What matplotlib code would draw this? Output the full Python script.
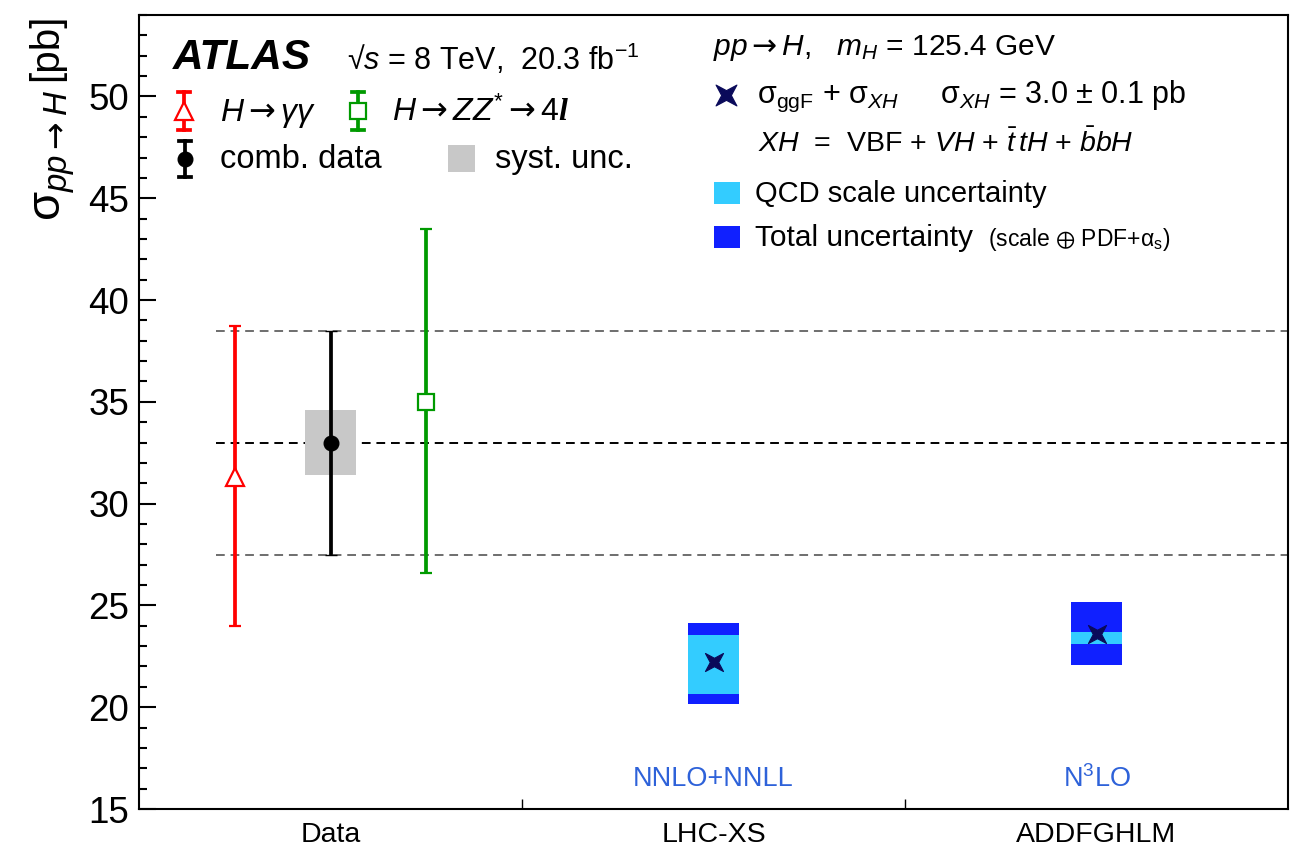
import matplotlib
matplotlib.use("Agg")
import matplotlib.pyplot as plt
from matplotlib.patches import Rectangle
from matplotlib.path import Path
from matplotlib.transforms import Affine2D
from matplotlib.ticker import MultipleLocator

plt.rcParams['font.family'] = ['Liberation Sans', 'DejaVu Sans']
plt.rcParams['mathtext.fontset'] = 'custom'
plt.rcParams['mathtext.rm'] = 'Liberation Sans'
plt.rcParams['mathtext.it'] = 'Liberation Sans:italic'
plt.rcParams['mathtext.bf'] = 'Liberation Sans:bold'
plt.rcParams['mathtext.sf'] = 'DejaVu Sans'
plt.rcParams['mathtext.cal'] = 'Liberation Serif:italic:bold'
plt.rcParams['mathtext.fallback'] = 'stixsans'

# ---- measured cross sections (pb) ----
categories = ['Data', 'LHC-XS', 'ADDFGHLM']
channel_pos = [0.25, 0.75, 0.5]          # H->gg, H->ZZ*->4l, combination
channel_value = [31.3, 35.0, 33.0]
channel_err_up = [7.4, 8.5, 5.5]
channel_err_down = [7.3, 8.4, 5.5]
comb_syst = 1.6

# ---- theory predictions: ggF + XH (pb) ----
theory_pos = [1.5, 2.5]
theory_value = [22.2, 23.6]
theory_scale_lo = [20.65, 23.1]
theory_scale_hi = [23.55, 23.7]
theory_total_lo = [20.15, 22.05]
theory_total_hi = [24.15, 25.15]
theory_labels = ['NNLO+NNLL', 'N$^3$LO']

# ---- colours ----
RED = '#ff0000'
GREEN = '#009a00'
GREY_BOX = '#c8c8c8'
LIGHT_BLUE = '#33ccff'
DARK_BLUE = '#1020ff'
NAVY = '#0a0a5a'
LABEL_BLUE = '#2e62d9'

ARROW = r'\mathsf{\rightarrow}'

W, H = 1293, 847
fig = plt.figure(figsize=(W / 100, H / 100), dpi=100)
ax = fig.add_axes([139 / W, 1 - 809 / H, 1149 / W, 794 / H])
ax.set_xlim(0, 3)
ax.set_ylim(15, 54)

# four-pointed star marker for theory points
star = Path.unit_regular_star(4, 0.33).transformed(Affine2D().rotate_deg(45))

# horizontal reference lines from the combined measurement
c_val = channel_value[2]
c_lo = c_val - channel_err_down[2]
c_hi = c_val + channel_err_up[2]
ax.hlines([c_lo, c_hi], 0.2, 3, colors='#6e6e6e', linestyles=(0, (4.5, 3)), lw=1.4, zorder=1)
ax.hlines(c_val, 0.2, 3, colors='black', linestyles=(0, (4.5, 3)), lw=1.4, zorder=1)

# systematic uncertainty box of the combination
box_hw = 0.067
ax.add_patch(Rectangle((channel_pos[2] - box_hw, c_val - comb_syst), 2 * box_hw, 2 * comb_syst,
                       facecolor=GREY_BOX, edgecolor='none', zorder=1.5))

styles = [
    dict(fmt='^', color=RED, ms=13, mfc='white', mec=RED, mew=1.6),
    dict(fmt='s', color=GREEN, ms=11, mfc='white', mec=GREEN, mew=1.6),
    dict(fmt='o', color='black', ms=10.5, mfc='black', mec='black', mew=1.0),
]
for x, v, eu, ed, st in zip(channel_pos, channel_value, channel_err_up, channel_err_down, styles):
    ax.errorbar([x], [v], yerr=[[ed], [eu]], elinewidth=2.7, capsize=4.3, capthick=2.7,
                zorder=3, **st)

# theory bands
for x, v, slo, shi, tlo, thi, lab in zip(theory_pos, theory_value, theory_scale_lo, theory_scale_hi,
                                          theory_total_lo, theory_total_hi, theory_labels):
    ax.add_patch(Rectangle((x - box_hw, tlo), 2 * box_hw, thi - tlo, facecolor=DARK_BLUE,
                           edgecolor='none', zorder=2))
    ax.add_patch(Rectangle((x - box_hw, slo), 2 * box_hw, shi - slo, facecolor=LIGHT_BLUE,
                           edgecolor='none', zorder=2.1))
    ax.plot([x], [v], marker=star, ms=13, color=NAVY, mec=NAVY, mew=0.8, ls='none', zorder=3)
    ax.text(x, 16.45, lab, color=LABEL_BLUE, fontsize=19.5, ha='center', va='center')

# axes styling
for s in ax.spines.values():
    s.set_linewidth(1.5)
ax.set_xticks([1, 2])
ax.set_xticklabels([])
ax.set_xticks([0.5, 1.5, 2.5], minor=True)
ax.set_xticklabels(categories, minor=True)
ax.tick_params(axis='x', which='major', direction='in', length=7, width=1.0)
ax.tick_params(axis='x', which='minor', length=0, labelsize=20.5, pad=9)
ax.set_yticks(range(15, 55, 5))
ax.yaxis.set_minor_locator(MultipleLocator(1))
ax.tick_params(axis='y', which='major', direction='in', length=12, width=1.5, labelsize=26.5, pad=7)
ax.tick_params(axis='y', which='minor', direction='in', length=6, width=1.5)

# ---- overlay in pixel coordinates for labels and legend ----
ov = fig.add_axes([0, 0, 1, 1], zorder=5)
ov.set_xlim(0, W)
ov.set_ylim(H, 0)
ov.axis('off')
ov.patch.set_alpha(0)

# y-axis title
ov.text(46, 14, '[pb]', rotation=90, ha='center', va='top', fontsize=29)
ov.text(55, 90, r'$\mathrm{\sigma}_{pp' + ARROW + r'H}$', rotation=90, ha='center', va='top',
        fontsize=34)

ov.text(173, 69, 'ATLAS', fontsize=30.5, fontweight='bold', fontstyle='italic', va='baseline')
ov.text(347, 70, '√$s$ = 8 TeV,  20.3 fb$^{-1}$', fontsize=22, va='baseline')


def leg_err(x, y0, y1, color, marker, ms, mfc, mew):
    ov.plot([x, x], [y0, y1], color=color, lw=2.7, zorder=1)
    for yy in (y0, y1):
        ov.plot([x - 6, x + 6], [yy, yy], color=color, lw=2.7, zorder=1)
    ov.plot([x], [(y0 + y1) / 2], marker=marker, ms=ms, mfc=mfc, mec=color, mew=mew, zorder=2)


leg_err(184, 92, 130, RED, '^', 13, 'white', 1.6)
ov.text(220, 121, r'$H' + ARROW + r'\gamma\gamma$', fontsize=23, va='baseline')
leg_err(358, 92, 130, GREEN, 's', 11, 'white', 1.6)
ov.text(392, 121, r'$H' + ARROW + r'ZZ^{*}' + ARROW + r'4\mathcal{l}$', fontsize=23, va='baseline')
leg_err(185, 141, 177, 'black', 'o', 10.5, 'black', 1.0)
ov.text(220, 168, 'comb. data', fontsize=23.5, va='baseline')
ov.add_patch(Rectangle((448, 145), 27, 27, facecolor=GREY_BOX, edgecolor='none'))
ov.text(495, 168, 'syst. unc.', fontsize=23.5, va='baseline')

ov.text(713, 55, r'$pp' + ARROW + r'H$,   $m_{H}$ = 125.4 GeV', fontsize=21.5, va='baseline')
ov.plot([726], [95], marker=star, ms=15, color=NAVY, mec=NAVY, mew=0.8)
ov.text(757, 103, r'$\mathrm{\sigma}_{\mathrm{ggF}}$ + $\mathrm{\sigma}_{XH}$     '
                  r'$\mathrm{\sigma}_{XH}$ = 3.0 $\pm$ 0.1 pb', fontsize=22, va='baseline')
ov.text(758, 152, r'$XH$  =  VBF + $VH$ + $\bar{t}\,tH$ + $\bar{b}bH$', fontsize=20.5,
        va='baseline')
ov.add_patch(Rectangle((714, 182), 26, 22, facecolor=LIGHT_BLUE, edgecolor='none'))
ov.text(755, 202, 'QCD scale uncertainty', fontsize=21, va='baseline')
ov.add_patch(Rectangle((714, 226), 26, 22, facecolor=DARK_BLUE, edgecolor='none'))
ov.text(755, 246, 'Total uncertainty', fontsize=21.5, va='baseline')
ov.text(988, 246, r'(scale $\oplus$ PDF+$\mathrm{\alpha}_{\mathrm{s}}$)', fontsize=16.5,
        va='baseline')

fig.savefig('out.png', dpi=100)
